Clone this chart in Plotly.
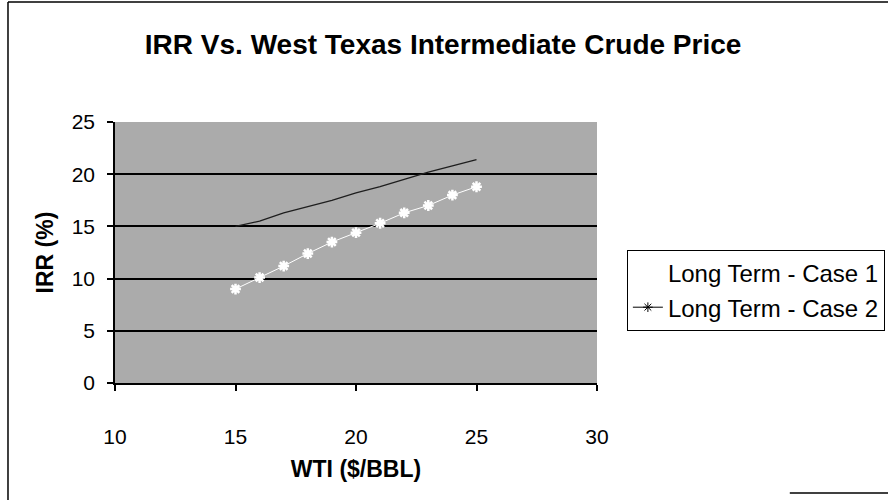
import plotly.graph_objects as go

# WTI crude price ($/BBL)
wti = [15, 16, 17, 18, 19, 20, 21, 22, 23, 24, 25]

# IRR (%) for each long-term case
case1_irr = [15.0, 15.5, 16.3, 16.9, 17.5, 18.2, 18.8, 19.5, 20.2, 20.8, 21.4]
case2_irr = [9.0, 10.1, 11.2, 12.4, 13.5, 14.4, 15.3, 16.3, 17.0, 18.0, 18.8]

x_ticks = [10, 15, 20, 25, 30]
y_ticks = [0, 5, 10, 15, 20, 25]

FONT = "Liberation Sans, Arial, sans-serif"

fig = go.Figure()

# data traces
fig.add_trace(go.Scatter(
    x=wti, y=case1_irr, mode="lines", name="Long Term - Case 1",
    line=dict(color="#1e1e1e", width=1.3), showlegend=False,
))
fig.add_trace(go.Scatter(
    x=wti, y=case2_irr, mode="lines+markers", name="Long Term - Case 2",
    line=dict(color="white", width=1),
    marker=dict(symbol="asterisk-open", size=9, color="white",
                line=dict(color="white", width=2.5)),
    showlegend=False,
))

# legend entries
fig.add_trace(go.Scatter(
    x=[None], y=[None], mode="lines", name="Long Term - Case 1",
    line=dict(color="white", width=1.5),
))
fig.add_trace(go.Scatter(
    x=[None], y=[None], mode="lines+markers", name="Long Term - Case 2",
    line=dict(color="black", width=1),
    marker=dict(symbol="asterisk-open", size=8, color="black",
                line=dict(color="black", width=1)),
))

fig.update_layout(
    width=888, height=500,
    margin=dict(l=115, r=291, t=122, b=117, autoexpand=False),
    paper_bgcolor="white",
    plot_bgcolor="#ababab",
    font=dict(family=FONT, color="black"),
    title=dict(
        text="<b>IRR Vs. West Texas Intermediate Crude Price</b>",
        x=0.499, xref="container", xanchor="center",
        y=0.912, yanchor="middle",
        font=dict(size=28, family=FONT, color="black"),
    ),
    xaxis=dict(
        range=[10, 30], tickvals=x_ticks, ticktext=[str(v) for v in x_ticks],
        showgrid=False, zeroline=False,
        showline=True, linecolor="black", linewidth=1.5,
        ticks="outside", ticklen=6, tickcolor="black", tickwidth=1.5,
        tickfont=dict(size=21, family=FONT), ticklabelstandoff=28,
        title=dict(text="<b>WTI ($/BBL)</b>", font=dict(size=23, family=FONT), standoff=14),
    ),
    yaxis=dict(
        range=[0, 25], tickvals=y_ticks, ticktext=[str(v) for v in y_ticks],
        showgrid=True, gridcolor="black", gridwidth=1.5, zeroline=False,
        showline=True, linecolor="black", linewidth=1.5,
        ticks="outside", ticklen=6, tickcolor="black", tickwidth=1.5,
        tickfont=dict(size=21, family=FONT), ticklabelstandoff=8,
        title=dict(text="<b>IRR (%)</b>", font=dict(size=23, family=FONT), standoff=12),
    ),
    legend=dict(
        x=1.062, xanchor="left", y=0.51, yanchor="top",
        bgcolor="white", bordercolor="black", borderwidth=1,
        font=dict(size=24, family=FONT, color="black"),
        itemwidth=30, tracegroupgap=0,
    ),
    shapes=[
        # chart frame: top and left edges, plus a bottom segment on the right
        dict(type="line", xref="paper", yref="paper", x0=-0.222, x1=1.70, y0=1.46, y1=1.46,
             line=dict(color="black", width=1.5)),
        dict(type="line", xref="paper", yref="paper", x0=-0.222, x1=-0.222, y0=1.46, y1=-0.45,
             line=dict(color="black", width=1.5)),
        dict(type="line", xref="paper", yref="paper", x0=1.40, x1=1.70, y0=-0.421, y1=-0.421,
             line=dict(color="black", width=1.5)),
    ],
)

fig.write_html("out.html")
